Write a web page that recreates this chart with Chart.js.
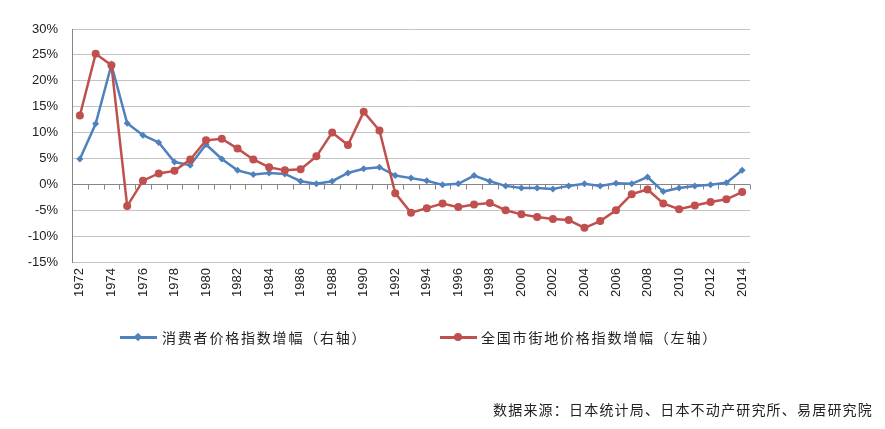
<!DOCTYPE html>
<html>
<head>
<meta charset="utf-8">
<script src="https://cdn.jsdelivr.net/npm/chart.js@4"></script>
<style>
  html, body { margin: 0; padding: 0; background: #fff; }
  #wrap { position: relative; width: 885px; height: 429px; }
  #c { position: absolute; left: 0; top: 0; }
  .lg { position: absolute; font-family: "Noto Sans CJK SC", sans-serif; font-size: 14px; letter-spacing: 1.8px; color: #222; line-height: 16px; white-space: nowrap; }
  .ln { position: absolute; height: 3px; }
  #src { position: absolute; right: 12px; top: 399px; font-family: "Noto Sans CJK SC", sans-serif; font-size: 14px; letter-spacing: 1.2px; color: #222; white-space: nowrap; }
</style>
</head>
<body>
<div id="wrap">
  <canvas id="c" width="885" height="429"></canvas>
  <div class="ln" style="left:120px;top:336px;width:37px;background:#4F81BD;"></div>
  <div style="position:absolute;left:135px;top:334px;width:6px;height:6px;background:#4F81BD;transform:rotate(45deg);"></div>
  <div class="lg" id="lg1" style="left:162px;top:329px;"></div>
  <div class="ln" style="left:440px;top:336px;width:37px;background:#C0504D;"></div>
  <div style="position:absolute;left:454px;top:333px;width:8px;height:8px;border-radius:50%;background:#C0504D;"></div>
  <div class="lg" id="lg2" style="left:481px;top:329px;"></div>
  <div id="src"></div>
</div>
<script>
const years = [];
for (let y = 1972; y <= 2014; y++) years.push(String(y));

const seriesNames = ['消费者价格指数增幅（右轴）', '全国市街地价格指数增幅（左轴）'];
const sourceText = '数据来源：日本统计局、日本不动产研究所、易居研究院';

const cpiGrowth = [4.9, 11.7, 23.1, 11.8, 9.5, 8.1, 4.3, 3.7, 7.7, 4.9,
  2.7, 1.9, 2.2, 2.0, 0.6, 0.1, 0.6, 2.2, 3.0, 3.3,
  1.7, 1.2, 0.7, -0.1, 0.1, 1.7, 0.6, -0.3, -0.7, -0.7,
  -0.9, -0.3, 0.1, -0.3, 0.2, 0.1, 1.4, -1.4, -0.7, -0.3,
  -0.1, 0.3, 2.7];
const landGrowth = [13.3, 25.2, 23.0, -4.2, 0.7, 2.1, 2.6, 4.8, 8.5, 8.8,
  6.9, 4.8, 3.3, 2.7, 2.9, 5.4, 10.0, 7.6, 14.0, 10.4,
  -1.7, -5.5, -4.6, -3.7, -4.4, -3.9, -3.6, -5.0, -5.8, -6.3,
  -6.7, -6.9, -8.4, -7.1, -5.0, -1.9, -1.0, -3.7, -4.8, -4.1,
  -3.4, -2.9, -1.5];

const yMin = -15, yMax = 30, yStep = 5;

document.getElementById('lg1').textContent = seriesNames[0];
document.getElementById('lg2').textContent = seriesNames[1];
document.getElementById('src').textContent = sourceText;

const zeroAxis = {
  id: 'zeroAxis',
  beforeDatasetsDraw(chart) {
    const { ctx, chartArea: a, scales: { x, y } } = chart;
    const y0 = Math.round(y.getPixelForValue(0)) + 0.5;
    ctx.save();
    ctx.strokeStyle = '#868686';
    ctx.lineWidth = 1;
    ctx.beginPath();
    ctx.moveTo(a.left, y0);
    ctx.lineTo(a.right, y0);
    const xs = [a.left];
    for (let i = 1; i < years.length; i++) {
      xs.push((x.getPixelForValue(i - 1) + x.getPixelForValue(i)) / 2);
    }
    xs.push(a.right);
    xs.forEach(px => {
      const p = Math.round(px) + 0.5;
      ctx.moveTo(p, y0);
      ctx.lineTo(p, y0 + 5);
    });
    ctx.stroke();
    ctx.restore();
  }
};

new Chart(document.getElementById('c'), {
  type: 'line',
  data: {
    labels: years,
    datasets: [
      {
        label: seriesNames[0],
        data: cpiGrowth,
        borderColor: '#4F81BD',
        backgroundColor: '#4F81BD',
        borderWidth: 2.5,
        pointStyle: 'rectRot',
        pointRadius: 3.5,
        pointBorderWidth: 0,
        tension: 0,
        order: 1
      },
      {
        label: seriesNames[1],
        data: landGrowth,
        borderColor: '#C0504D',
        backgroundColor: '#C0504D',
        borderWidth: 2.5,
        pointStyle: 'circle',
        pointRadius: 4,
        pointBorderWidth: 0,
        tension: 0,
        order: 0
      }
    ]
  },
  options: {
    responsive: false,
    animation: false,
    layout: { padding: { top: 29, right: 135, bottom: 0, left: 0 } },
    plugins: { legend: { display: false }, tooltip: { enabled: false } },
    scales: {
      x: {
        type: 'category',
        offset: true,
        grid: { display: false, drawTicks: false },
        border: { display: false },
        ticks: {
          autoSkip: false,
          maxRotation: 90,
          minRotation: 90,
          padding: 6,
          color: '#222',
          font: { family: 'Liberation Sans, Arial, sans-serif', size: 13 },
          callback: (v, i) => (i % 2 === 0 ? years[i] : '')
        },
        afterFit: s => { s.height = 167; }
      },
      y: {
        min: yMin,
        max: yMax,
        grid: { color: '#c4c4c4', lineWidth: 1, drawTicks: false },
        border: { display: true, color: '#868686', width: 1 },
        ticks: {
          stepSize: yStep,
          padding: 14,
          color: '#222',
          font: { family: 'Liberation Sans, Arial, sans-serif', size: 13 },
          callback: v => v + '%'
        },
        afterFit: s => { s.width = 72; }
      }
    }
  },
  plugins: [zeroAxis]
});
</script>
</body>
</html>
